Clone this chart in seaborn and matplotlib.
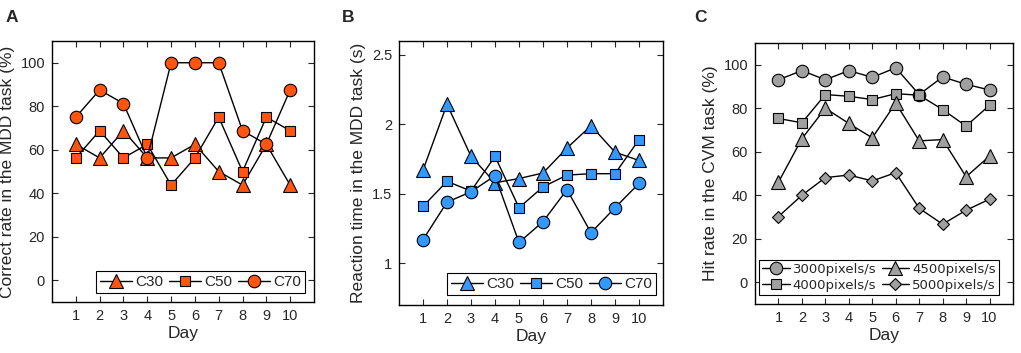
import matplotlib
matplotlib.use("Agg")
import matplotlib.pyplot as plt
import seaborn as sns

# ---- data ----
days = list(range(1, 11))

# panel A: correct rate in the MDD task (%)
corr_c30 = [62.5, 56.25, 68.75, 56.25, 56.25, 62.5, 50, 43.75, 62.5, 43.75]
corr_c50 = [56.25, 68.75, 56.25, 62.5, 43.75, 56.25, 75, 50, 75, 68.75]
corr_c70 = [75, 87.5, 81.25, 56.25, 100, 100, 100, 68.75, 62.5, 87.5]

# panel B: reaction time in the MDD task (s)
rt_c30 = [1.67, 2.145, 1.77, 1.58, 1.61, 1.65, 1.83, 1.99, 1.80, 1.74]
rt_c50 = [1.41, 1.59, 1.52, 1.77, 1.40, 1.55, 1.635, 1.645, 1.645, 1.89]
rt_c70 = [1.17, 1.44, 1.515, 1.63, 1.15, 1.30, 1.53, 1.22, 1.40, 1.575]

# panel C: hit rate in the CVM task (%)
hit_3000 = [93.1, 97.3, 93.1, 97.3, 94.2, 98.6, 86.3, 94.4, 91.0, 88.4]
hit_4000 = [75.3, 73.3, 86.3, 85.5, 84.0, 86.7, 86.0, 79.4, 71.8, 81.4]
hit_4500 = [46, 66, 80, 73, 66.4, 82.4, 65, 65.6, 48.5, 58]
hit_5000 = [30.2, 40, 48.1, 49.3, 46.6, 50.4, 34, 26.7, 33.1, 38.2]

mdd_labels = ["C30", "C50", "C70"]
cvm_labels = ["3000pixels/s", "4000pixels/s", "4500pixels/s", "5000pixels/s"]

sns.set_style("ticks")
plt.rcParams["font.family"] = ["Liberation Sans", "DejaVu Sans"]

W, H = 1021, 353
fig = plt.figure(figsize=(W / 100, H / 100), dpi=100)


def add_axes_px(left, top, right, bottom):
    return fig.add_axes([left / W, 1 - bottom / H, (right - left) / W, (bottom - top) / H])


def draw_series(ax, vals, label, marker, ms, face):
    sns.lineplot(x=days, y=vals, ax=ax, color="black", linewidth=1,
                 marker=marker, markersize=ms, markerfacecolor=face,
                 markeredgecolor="black", markeredgewidth=0.8,
                 label=label, legend=False)


def style_axes(ax, ylabel):
    ax.set_xlim(0, 11)
    ax.set_xticks(days)
    ax.set_xlabel("Day", fontsize=12.5, labelpad=2)
    ax.set_ylabel(ylabel, fontsize=12.5, labelpad=4)
    ax.tick_params(direction="in", top=True, right=True, length=4, width=0.8,
                   labelsize=10.5, pad=5)
    for sp in ax.spines.values():
        sp.set_visible(True)
        sp.set_color("black")
        sp.set_linewidth(1)
    ax.grid(False)


def add_legend(ax, ncol, loc, anchor, **kw):
    h, l = ax.get_legend_handles_labels()
    leg = ax.legend(h, l, ncol=ncol, loc=loc, bbox_to_anchor=anchor,
                    borderaxespad=0, frameon=True, fancybox=False,
                    edgecolor="black", framealpha=1, handlelength=2.1,
                    handletextpad=0.2, columnspacing=0.4, borderpad=0.25, **kw)
    leg.get_frame().set_linewidth(0.8)


orange = "#FF5511"
blue = "#3399FF"
gray = "#A0A0A0"

# ---- panel A ----
axA = add_axes_px(52, 41, 314, 302)
for vals, lab, mk, ms in zip([corr_c30, corr_c50, corr_c70], mdd_labels,
                             ["^", "s", "o"], [10, 7, 9]):
    draw_series(axA, vals, lab, mk, ms, orange)
style_axes(axA, "Correct rate in the MDD task (%)")
axA.set_ylim(-10, 110)
axA.set_yticks([0, 20, 40, 60, 80, 100])
add_legend(axA, 3, "lower right", (1 - 9 / 262, 9 / 261), fontsize=11)

# ---- panel B ----
axB = add_axes_px(399, 41, 663, 305)
for vals, lab, mk, ms in zip([rt_c30, rt_c50, rt_c70], mdd_labels,
                             ["^", "s", "o"], [10, 7, 9]):
    draw_series(axB, vals, lab, mk, ms, blue)
style_axes(axB, "Reaction time in the MDD task (s)")
axB.set_ylim(0.7, 2.6)
axB.set_yticks([1, 1.5, 2, 2.5])
axB.set_yticklabels(["1", "1.5", "2", "2.5"])
add_legend(axB, 3, "lower right", (1 - 7 / 264, 10 / 264), fontsize=11)

# ---- panel C ----
axC = add_axes_px(755, 43, 1013, 304)
for vals, lab, mk, ms in zip([hit_3000, hit_4000, hit_4500, hit_5000], cvm_labels,
                             ["o", "s", "^", "D"], [9, 7, 9.5, 6.5]):
    draw_series(axC, vals, lab, mk, ms, gray)
style_axes(axC, "Hit rate in the CVM task (%)")
axC.set_ylim(-10, 110)
axC.set_yticks([0, 20, 40, 60, 80, 100])
add_legend(axC, 2, "lower left", (4 / 258, 9 / 261), labelspacing=0.2,
           prop={"family": "DejaVu Sans", "size": 9.5})

# panel letters
for x, letter in [(12, "A"), (348, "B"), (700, "C")]:
    fig.text(x / W, 1 - 17 / H, letter, fontsize=12.5, fontweight="bold",
             ha="center", va="center")

fig.savefig("out.png", dpi=100)
